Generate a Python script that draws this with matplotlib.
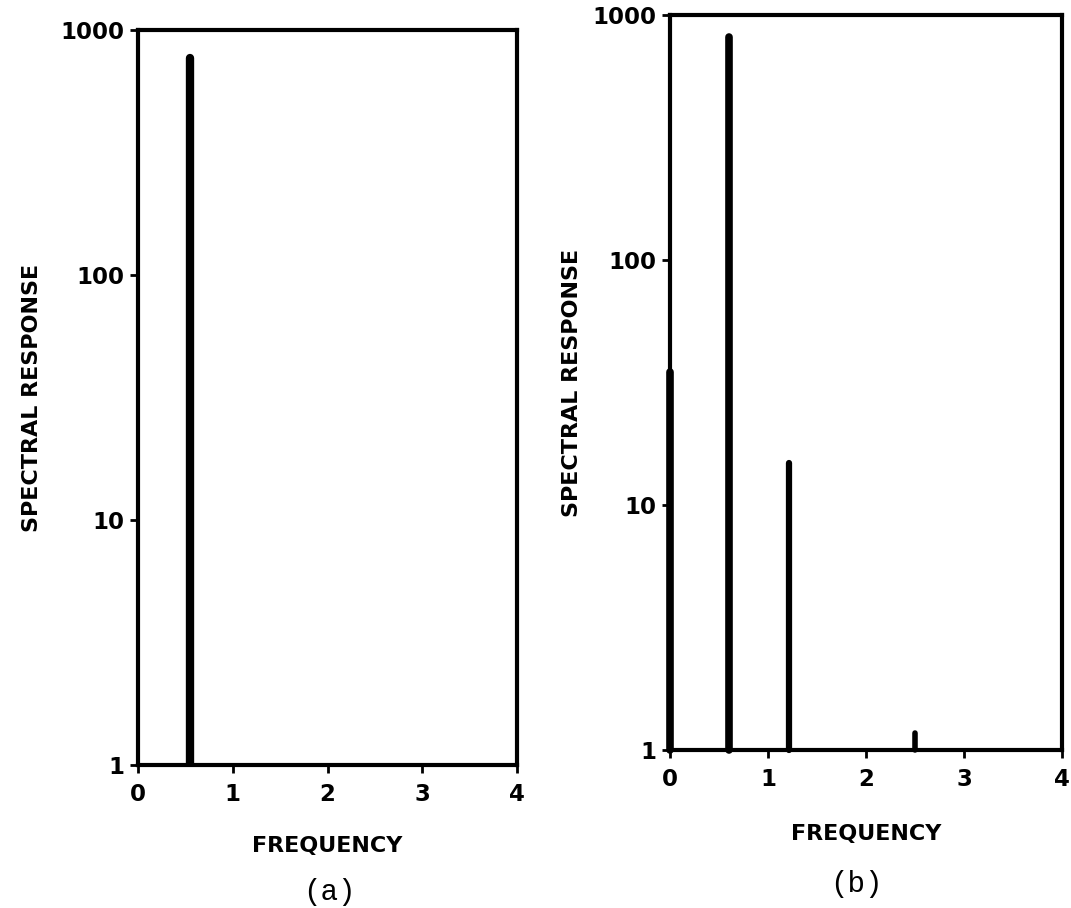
import matplotlib
matplotlib.use("Agg")
import matplotlib.pyplot as plt
from matplotlib.ticker import FixedLocator, FixedFormatter, NullLocator

# ---- data ----
freq_a = [0.55]
resp_a = [770]
freq_b = [0.0, 0.6, 1.21, 2.5]
resp_b = [35, 810, 14.8, 1.17]
widths_b = [5.5, 5.5, 4.5, 4.0]

xticks = [0, 1, 2, 3, 4]
xticklabels = ["0", "1", "2", "3", "4"]
yticks = [1, 10, 100, 1000]
yticklabels = ["1", "10", "100", "1000"]

plt.rcParams['font.family'] = ['DejaVu Sans']

fig = plt.figure(figsize=(10.71, 9.08), dpi=100)
ax_a = fig.add_axes([0.1289, 0.1575, 0.3539, 0.8095])
ax_b = fig.add_axes([0.6256, 0.1740, 0.3660, 0.8095])


def style(ax):
    ax.set_yscale('log')
    ax.set_xlim(0, 4)
    ax.set_ylim(1, 1000)
    ax.xaxis.set_major_locator(FixedLocator(xticks))
    ax.xaxis.set_major_formatter(FixedFormatter(xticklabels))
    ax.yaxis.set_major_locator(FixedLocator(yticks))
    ax.yaxis.set_major_formatter(FixedFormatter(yticklabels))
    ax.yaxis.set_minor_locator(NullLocator())
    ax.xaxis.set_minor_locator(NullLocator())
    for s in ax.spines.values():
        s.set_linewidth(3)
        s.set_color('black')
    ax.tick_params(axis='both', direction='out', length=6, width=2,
                   labelsize=16.5, color='black')
    ax.tick_params(axis='x', pad=7)
    ax.tick_params(axis='y', pad=4)
    for lab in ax.get_xticklabels() + ax.get_yticklabels():
        lab.set_fontweight('bold')
    ax.set_xlabel('FREQUENCY', fontsize=16, fontweight='bold')
    ax.set_ylabel('SPECTRAL RESPONSE', fontsize=16, fontweight='bold')


style(ax_a)
ax_a.vlines(freq_a, 1, resp_a, colors='black', linewidth=6, capstyle='round')
ax_a.yaxis.set_label_coords(-0.253, 0.5)
ax_a.xaxis.set_label_coords(0.5, -0.097)

style(ax_b)
ax_b.vlines(freq_b, 1, resp_b, colors='black', linewidths=widths_b,
            capstyle='round', clip_on=False)
ax_b.yaxis.set_label_coords(-0.224, 0.5)
ax_b.xaxis.set_label_coords(0.5, -0.1)

fig.text(0.308, 0.018, '(a)', fontsize=21, family='Liberation Mono',
         ha='center', va='center')
fig.text(0.800, 0.026, '(b)', fontsize=21, family='Liberation Mono',
         ha='center', va='center')

fig.savefig('out.png', dpi=100, facecolor='white')
